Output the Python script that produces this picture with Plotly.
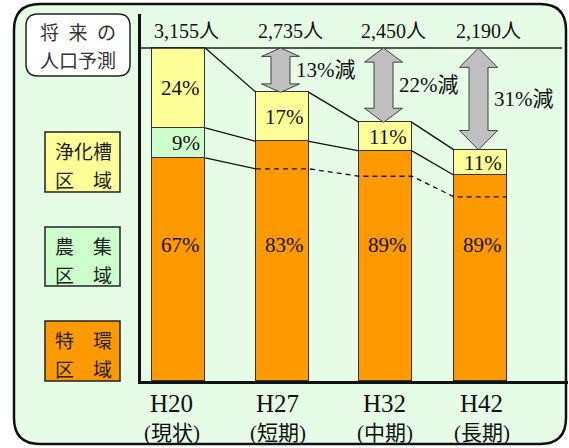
import plotly.graph_objects as go

# ---------------- data ----------------
periods = ["H20", "H27", "H32", "H42"]
period_notes = ["(現状)", "(短期)", "(中期)", "(長期)"]
population = [3155, 2735, 2450, 2190]          # 人
pct_tokkan = [67, 83, 89, 89]                   # 特環区域 %
pct_noshu = [9, 0, 0, 0]                        # 農集区域 %
pct_johka = [24, 17, 11, 11]                    # 浄化槽区域 %
reduction_pct = [13, 22, 31]                    # 減少率 (H27, H32, H42)
tokkan_base_line = [2010, 1940, 1745]           # 破線 (H27, H32, H42)

# ---------------- layout constants ----------------
W, H = 569, 448
SERIF = "Liberation Serif, Noto Sans CJK JP"
CJK = "Noto Sans CJK JP"
C_OR, C_GR, C_YE = "#ff9900", "#ccffcc", "#ffff99"
BG = "#e6fce6"
BAR_POS = [0, 1.0375, 2.0675, 3.0175]
BAR_W = 0.53
XR = [-0.3775, 3.8925]
YR = [0, 3477]
PX_L, PX_R, PX_T, PX_B = 141, 568, 14, 381
xpp = (XR[1] - XR[0]) / (PX_R - PX_L)
ypp = (YR[1] - YR[0]) / (PX_B - PX_T)

tok = [p * a / 100 for p, a in zip(population, pct_tokkan)]
nos = [p * a / 100 if a else None for p, a in zip(population, pct_noshu)]
joh = [p * a / 100 for p, a in zip(population, pct_johka)]

fig = go.Figure()
for vals, col in [(tok, C_OR), (nos, C_GR), (joh, C_YE)]:
    fig.add_trace(go.Bar(x=BAR_POS, y=vals, width=BAR_W,
                         marker=dict(color=col, line=dict(color="#333", width=1.2)),
                         hoverinfo="skip", showlegend=False))

L = [p - BAR_W / 2 for p in BAR_POS]
R = [p + BAR_W / 2 for p in BAR_POS]

def link(levels):
    xs, ys = [], []
    for i in range(len(levels) - 1):
        xs += [R[i], L[i + 1], None]
        ys += [levels[i], levels[i + 1], None]
    return xs, ys

line_style = dict(color="#111", width=1.3)
xs, ys = link(population)
fig.add_trace(go.Scatter(x=xs, y=ys, mode="lines", line=line_style, hoverinfo="skip", showlegend=False))
ybound = [t + (n or 0) for t, n in zip(tok, nos)]
xs, ys = link(ybound)
fig.add_trace(go.Scatter(x=xs, y=ys, mode="lines", line=line_style, hoverinfo="skip", showlegend=False))
fig.add_trace(go.Scatter(x=[R[0], L[1]], y=[tok[0], tokkan_base_line[0]], mode="lines",
                         line=line_style, hoverinfo="skip", showlegend=False))
dx, dy = [], []
for i, v in enumerate(tokkan_base_line):
    dx += [L[i + 1], R[i + 1]]
    dy += [v, v]
fig.add_trace(go.Scatter(x=dx, y=dy, mode="lines",
                         line=dict(color="#111", width=1.3, dash="5px,4px"),
                         hoverinfo="skip", showlegend=False))

def px2paper(x, y):
    return x / W, 1 - y / H

def rrect_path(x0, y0, x1, y1, r):
    def P(x, y):
        a, b = px2paper(x, y)
        return f"{a:.5f},{b:.5f}"
    return (f"M{P(x0 + r, y0)} L{P(x1 - r, y0)} Q{P(x1, y0)} {P(x1, y0 + r)} "
            f"L{P(x1, y1 - r)} Q{P(x1, y1)} {P(x1 - r, y1)} L{P(x0 + r, y1)} "
            f"Q{P(x0, y1)} {P(x0, y1 - r)} L{P(x0, y0 + r)} Q{P(x0, y0)} {P(x0 + r, y0)} Z")

shapes = []
shapes.append(dict(type="path", xref="paper", yref="paper", layer="below",
                   path=rrect_path(14, 4, 566, 444, 26), fillcolor=BG,
                   line=dict(color="#111", width=2.5)))
shapes.append(dict(type="path", xref="paper", yref="paper",
                   path=rrect_path(26, 14, 130, 76, 12), fillcolor="white",
                   line=dict(color="#222", width=1.5)))
legend_boxes = [(132, 192, C_YE, ["浄化槽", "区　域"]),
                (227, 286, C_GR, ["農　集", "区　域"]),
                (321, 381, C_OR, ["特　環", "区　域"])]
annotations = []
for y0, y1, col, lines in legend_boxes:
    a0, b0 = px2paper(45, y0)
    a1, b1 = px2paper(120, y1)
    shapes.append(dict(type="rect", xref="paper", yref="paper", x0=a0, x1=a1, y0=b1, y1=b0,
                       fillcolor=col, line=dict(color="#222", width=1.5)))
    for k, t in enumerate(lines):
        ax, ay = px2paper(83, y0 + 18 + k * 29)
        annotations.append(dict(xref="paper", yref="paper", x=ax, y=ay, text=t, showarrow=False,
                                xanchor="center", yanchor="middle",
                                font=dict(family=CJK, size=19, color="#222")))
for t, yy in [("将\u2002来\u2002の", 32), ("人口予測", 60)]:
    ax, ay = px2paper(78, yy)
    annotations.append(dict(xref="paper", yref="paper", x=ax, y=ay, text=t, showarrow=False,
                            xanchor="center", yanchor="middle",
                            font=dict(family=CJK, size=19, color="#333")))

shapes.append(dict(type="line", xref="x", yref="y", x0=XR[0], x1=XR[0] + (562 - PX_L) * xpp,
                   y0=population[0], y1=population[0], line=dict(color="#222", width=1.5)))

hw, sw = 19 * xpp, 9.5 * xpp
for i in range(1, 4):
    xc = BAR_POS[i] - 2 * xpp
    yt, yb = population[0], population[i]
    h = 0.19 * (yt - yb)
    pts = [(xc, yt), (xc + hw, yt - h), (xc + sw, yt - h), (xc + sw, yb + h), (xc + hw, yb + h),
           (xc, yb), (xc - hw, yb + h), (xc - sw, yb + h), (xc - sw, yt - h), (xc - hw, yt - h)]
    path = "M" + " L".join(f"{a:.4f},{b:.2f}" for a, b in pts) + " Z"
    shapes.append(dict(type="path", xref="x", yref="y", path=path, fillcolor="#bfbfbf",
                       line=dict(color="#404040", width=1)))
    annotations.append(dict(xref="x", yref="y", x=xc + 13 * xpp, y=(yt + yb) / 2,
                            text=f"{reduction_pct[i - 1]}%減", showarrow=False,
                            xanchor="left", yanchor="middle",
                            font=dict(family=SERIF, size=21, color="#111")))

for i, p in enumerate(population):
    annotations.append(dict(xref="x", yref="paper", x=L[i], y=1 - 31 / H, text=f"{p:,}人",
                            showarrow=False, xanchor="left", yanchor="middle",
                            font=dict(family=SERIF, size=20, color="#111")))

ORANGE_LABEL_Y = 1290
for i in range(4):
    annotations.append(dict(xref="x", yref="y", x=R[i], y=ORANGE_LABEL_Y, text=f"{pct_tokkan[i]}%",
                            showarrow=False, xanchor="right", yanchor="middle", xshift=-3,
                            font=dict(family=SERIF, size=21, color="#111")))
    annotations.append(dict(xref="x", yref="y", x=R[i], y=(ybound[i] + population[i]) / 2,
                            text=f"{pct_johka[i]}%", showarrow=False, xanchor="right",
                            yanchor="middle", xshift=-3,
                            font=dict(family=SERIF, size=21, color="#111")))
    if pct_noshu[i]:
        annotations.append(dict(xref="x", yref="y", x=R[i], y=tok[i] + nos[i] / 2,
                                text=f"{pct_noshu[i]}%", showarrow=False, xanchor="right",
                                yanchor="middle", xshift=-3,
                                font=dict(family=SERIF, size=21, color="#111")))

XSHIFT = [-7, -5, -1, 1]
for i in range(4):
    annotations.append(dict(xref="x", yref="paper", x=BAR_POS[i], y=1 - 403 / H, text=periods[i],
                            showarrow=False, xshift=XSHIFT[i], xanchor="center", yanchor="middle",
                            font=dict(family=SERIF, size=25, color="#111")))
    annotations.append(dict(xref="x", yref="paper", x=BAR_POS[i], y=1 - 433 / H, text=period_notes[i],
                            showarrow=False, xshift=XSHIFT[i], xanchor="center", yanchor="middle",
                            font=dict(family=SERIF, size=21, color="#111")))

fig.update_layout(
    width=W, height=H, margin=dict(l=0, r=0, t=0, b=0),
    paper_bgcolor="white", plot_bgcolor="rgba(0,0,0,0)",
    barmode="stack", bargap=0, showlegend=False,
    xaxis=dict(domain=[PX_L / W, PX_R / W], range=XR, showgrid=False, zeroline=False,
               showticklabels=False, ticks="", showline=True, linewidth=3, linecolor="#111"),
    yaxis=dict(domain=[1 - PX_B / H, 1 - PX_T / H], range=YR, showgrid=False, zeroline=False,
               showticklabels=False, ticks="", showline=True, linewidth=3, linecolor="#111"),
    shapes=shapes, annotations=annotations,
)
fig.write_html("out.html", config={"displayModeBar": False},
               post_script="document.body.style.margin='0';")
